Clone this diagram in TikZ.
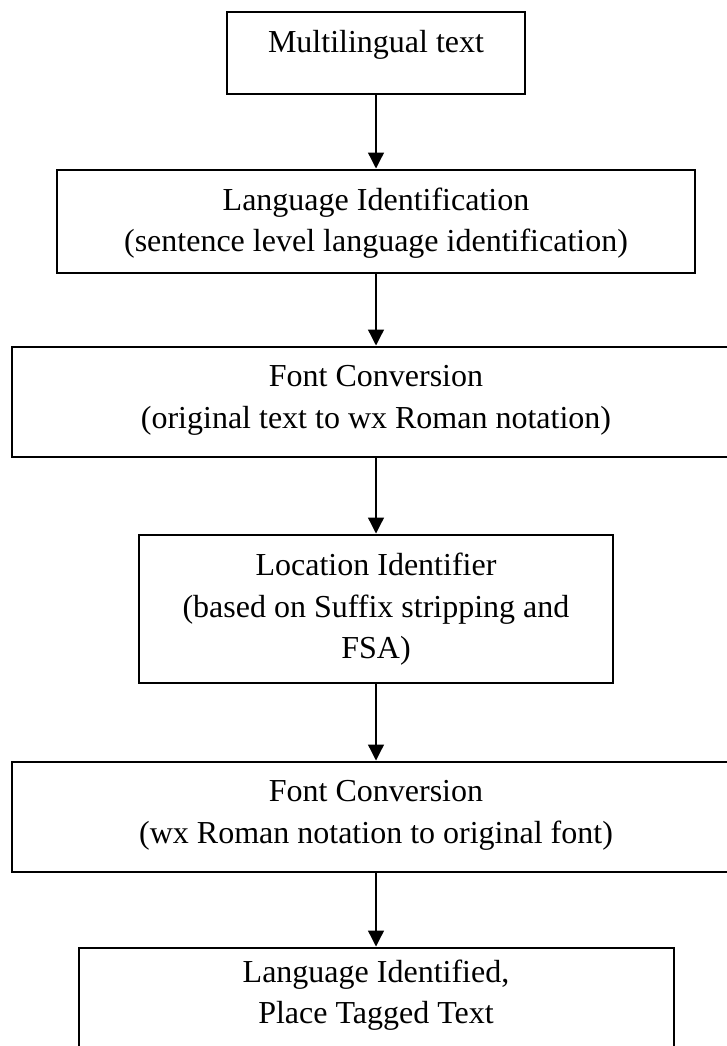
\documentclass[tikz,border=0pt]{standalone}
\usepackage{fontspec}
\setmainfont{Liberation Serif}
\usetikzlibrary{arrows.meta}
\begin{document}
\begin{tikzpicture}[x=1pt,y=-1pt,
  stage/.style={draw, line width=2pt, rectangle, inner sep=0pt, outer sep=0pt},
  txtline/.style={anchor=base, inner sep=0pt, font=\fontsize{32}{41.5}\selectfont},
  flow/.style={line width=1.3pt, -{Triangle[width=16pt,length=16pt]}, shorten >=1.5pt}]
\useasboundingbox (0,0) rectangle (726,1046);
\fill[white] (0,0) rectangle (726,1046);

% process boxes
\node[stage, minimum width=298pt, minimum height=82pt]  (n1) at (376,53)    {};
\node[stage, minimum width=638pt, minimum height=103pt] (n2) at (376,221.5) {};
\node[stage, minimum width=728pt, minimum height=110pt] (n3) at (376,402)   {};
\node[stage, minimum width=474pt, minimum height=148pt] (n4) at (376,609)   {};
\node[stage, minimum width=728pt, minimum height=110pt] (n5) at (376,817)   {};
\node[stage, minimum width=595pt, minimum height=140pt] (n6) at (376,1018)  {};

% box texts
\node[txtline] (t1)  at (376,53)    {Multilingual text};
\node[txtline] (t2a) at (376,210)   {Language Identification};
\node[txtline] (t2b) at (376,251.5) {(sentence level language identification)};
\node[txtline] (t3a) at (376,386.5) {Font Conversion};
\node[txtline] (t3b) at (376,428)   {(original text to wx Roman notation)};
\node[txtline] (t4a) at (376,575)   {Location Identifier};
\node[txtline] (t4b) at (376,617)   {(based on Suffix stripping and};
\node[txtline] (t4c) at (376,658)   {FSA)};
\node[txtline] (t5a) at (376,801.5) {Font Conversion};
\node[txtline] (t5b) at (376,843)   {(wx Roman notation to original font)};
\node[txtline] (t6a) at (376,982)   {Language Identified,};
\node[txtline] (t6b) at (376,1023)  {Place Tagged Text};

% connectors
\draw[flow] (n1.south) -- (n2.north);
\draw[flow] (n2.south) -- (n3.north);
\draw[flow] (n3.south) -- (n4.north);
\draw[flow] (n4.south) -- (n5.north);
\draw[flow] (n5.south) -- (n6.north);
\end{tikzpicture}
\end{document}
